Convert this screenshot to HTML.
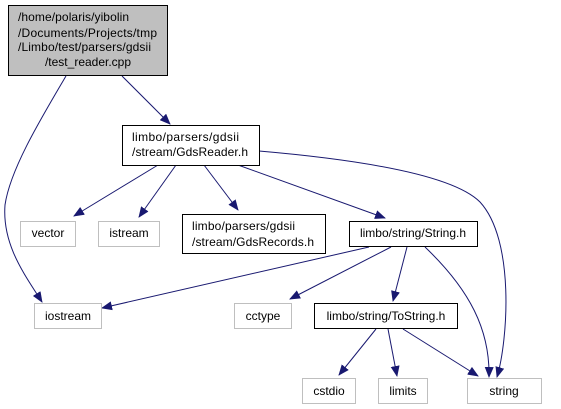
<!DOCTYPE html>
<html><head><meta charset="utf-8"><style>
html,body{margin:0;padding:0;background:#fff;}
svg{display:block;font-family:"Liberation Sans",sans-serif;font-size:12px;}
</style></head><body>
<svg width="561" height="409" viewBox="0 0 561 409">
<defs><marker id="a" markerWidth="11" markerHeight="9" refX="10" refY="4.5" orient="auto" markerUnits="userSpaceOnUse"><path d="M0,0 L11,4.5 L0,9 Z" fill="#191970"/></marker></defs>
<g fill="none" stroke="#191970" stroke-width="1" marker-end="url(#a)">
<path d="M66,76 C40,120 10,170 5,205 C2,245 25,275 42,302"/>
<path d="M122,76 L170,124"/>
<path d="M158,165 L74,216"/>
<path d="M176,165 L139,217"/>
<path d="M204,165 L238,210"/>
<path d="M238,165 L385,218"/>
<path d="M259,151 C340,158 450,172 480,202 C515,240 508,340 497,377"/>
<path d="M369,247 L102,308"/>
<path d="M391,247 L290,299"/>
<path d="M407,247 L393,301"/>
<path d="M425,247 C470,290 490,330 489,377"/>
<path d="M376,329 L339,375"/>
<path d="M388,329 L397,376"/>
<path d="M403,329 L478,376"/>
</g>
<g stroke-width="1">
<rect x="8.5" y="5.5" width="159" height="70" fill="#bfbfbf" stroke="#000"/>
<rect x="122.5" y="125.5" width="137" height="40" fill="#fff" stroke="#000"/>
<rect x="20.5" y="221.5" width="55" height="25" fill="#fff" stroke="#bfbfbf"/>
<rect x="98.5" y="221.5" width="61" height="25" fill="#fff" stroke="#bfbfbf"/>
<rect x="182.5" y="214.5" width="143" height="39" fill="#fff" stroke="#000"/>
<rect x="349.5" y="221.5" width="128" height="25" fill="#fff" stroke="#000"/>
<rect x="34.5" y="303.5" width="67" height="25" fill="#fff" stroke="#bfbfbf"/>
<rect x="234.5" y="303.5" width="57" height="25" fill="#fff" stroke="#bfbfbf"/>
<rect x="314.5" y="303.5" width="143" height="25" fill="#fff" stroke="#000"/>
<rect x="302.5" y="378.5" width="53" height="25" fill="#fff" stroke="#bfbfbf"/>
<rect x="378.5" y="378.5" width="49" height="25" fill="#fff" stroke="#bfbfbf"/>
<rect x="467.5" y="378.5" width="74" height="25" fill="#fff" stroke="#bfbfbf"/>
</g>
<g fill="#000">
<text x="18" y="21" textLength="111">/home/polaris/yibolin</text>
<text x="18" y="37" textLength="139">/Documents/Projects/tmp</text>
<text x="18" y="51" textLength="133">/Limbo/test/parsers/gdsii</text>
<text x="88" y="66" text-anchor="middle">/test_reader.cpp</text>
<text x="132" y="141" textLength="107">limbo/parsers/gdsii</text>
<text x="132" y="156" textLength="116">/stream/GdsReader.h</text>
<text x="48" y="237" text-anchor="middle">vector</text>
<text x="129" y="237" text-anchor="middle">istream</text>
<text x="192" y="230" textLength="103">limbo/parsers/gdsii</text>
<text x="192" y="246" textLength="122">/stream/GdsRecords.h</text>
<text x="413" y="237" text-anchor="middle">limbo/string/String.h</text>
<text x="68" y="320" text-anchor="middle">iostream</text>
<text x="263" y="320" text-anchor="middle">cctype</text>
<text x="386" y="320" text-anchor="middle">limbo/string/ToString.h</text>
<text x="329" y="395" text-anchor="middle">cstdio</text>
<text x="403" y="395" text-anchor="middle">limits</text>
<text x="504" y="395" text-anchor="middle">string</text>
</g>
</svg>
</body></html>
